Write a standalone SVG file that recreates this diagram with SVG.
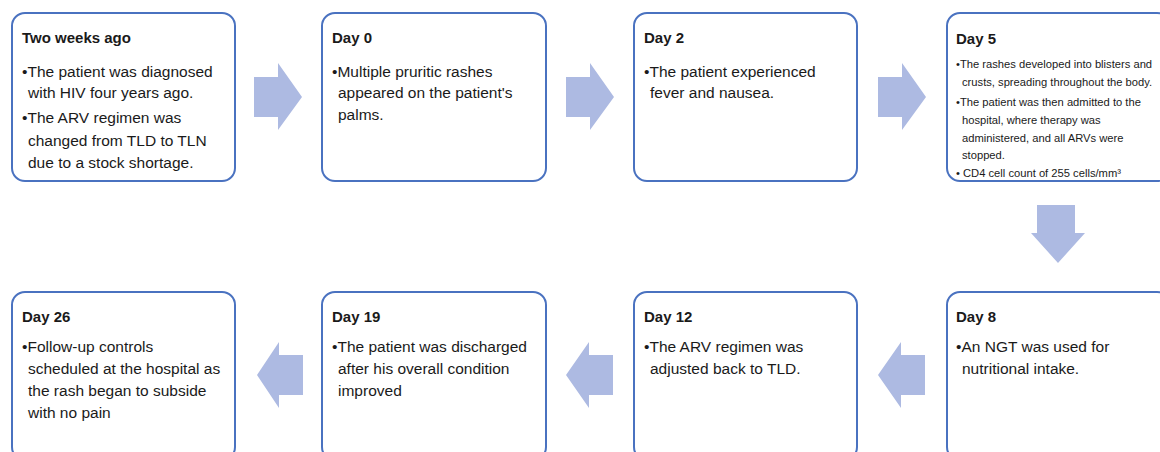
<svg xmlns="http://www.w3.org/2000/svg" width="1160" height="452" viewBox="0 0 1160 452">
<style>
.box{fill:#fff;stroke:#4a72c0;stroke-width:2}
.t{font-family:"Liberation Sans",Arial,sans-serif;fill:#1a1a1a}
.h{font-size:15px;font-weight:bold}
.b{font-size:15.5px}
.s{font-size:11.2px}
.arr{fill:#adbae2}
</style>
<rect width="1160" height="452" fill="#fff"/>
<g id="connectors">
<path class="arr" d="M254,77H278V63L302,97L278,130V117H254Z"/>
<path class="arr" d="M566,77H590V63L614,97L590,130V117H566Z"/>
<path class="arr" d="M878,77H902V63L926,97L902,130V117H878Z"/>
<path class="arr" d="M1037,205H1075V233H1085L1058,263L1031,233H1037Z"/>
<path class="arr" d="M925,355H901V342L878,375L901,408V395H925Z"/>
<path class="arr" d="M613,355H589V342L566,375L589,408V395H613Z"/>
<path class="arr" d="M303,355H279V342L257,375L279,408V395H303Z"/>
</g>
<g id="n1"><rect class="box" x="12" y="13" width="223" height="168" rx="13"/>
<text class="t h" x="22" y="43">Two weeks ago</text>
<text class="t b"><tspan x="22" y="77">•The patient was diagnosed</tspan><tspan x="28" y="98">with HIV four years ago.</tspan><tspan x="22" y="123">•The ARV regimen was</tspan><tspan x="28" y="146">changed from TLD to TLN</tspan><tspan x="28" y="168">due to a stock shortage.</tspan></text></g>
<g id="n2"><rect class="box" x="322" y="13" width="224" height="168" rx="13"/>
<text class="t h" x="332" y="43">Day 0</text>
<text class="t b"><tspan x="332" y="77">•Multiple pruritic rashes</tspan><tspan x="338" y="98">appeared on the patient's</tspan><tspan x="338" y="120">palms.</tspan></text></g>
<g id="n3"><rect class="box" x="634" y="13" width="223" height="168" rx="13"/>
<text class="t h" x="644" y="43">Day 2</text>
<text class="t b"><tspan x="644" y="77">•The patient experienced</tspan><tspan x="650" y="98">fever and nausea.</tspan></text></g>
<g id="n4"><rect class="box" x="947" y="13" width="223" height="168" rx="13"/>
<text class="t h" x="956" y="44">Day 5</text>
<text class="t s"><tspan x="956" y="68">•The rashes developed into blisters and</tspan><tspan x="962" y="86">crusts, spreading throughout the body.</tspan><tspan x="956" y="106">•The patient was then admitted to the</tspan><tspan x="962" y="124">hospital, where therapy was</tspan><tspan x="962" y="142">administered, and all ARVs were</tspan><tspan x="962" y="159">stopped.</tspan><tspan x="956" y="177">• CD4 cell count of 255 cells/mm³</tspan></text></g>
<g id="n5"><rect class="box" x="947" y="292" width="223" height="168" rx="13"/>
<text class="t h" x="956" y="322">Day 8</text>
<text class="t b"><tspan x="956" y="352">•An NGT was used for</tspan><tspan x="962" y="374">nutritional intake.</tspan></text></g>
<g id="n6"><rect class="box" x="634" y="292" width="223" height="168" rx="13"/>
<text class="t h" x="644" y="322">Day 12</text>
<text class="t b"><tspan x="644" y="352">•The ARV regimen was</tspan><tspan x="650" y="374">adjusted back to TLD.</tspan></text></g>
<g id="n7"><rect class="box" x="322" y="292" width="224" height="168" rx="13"/>
<text class="t h" x="332" y="322">Day 19</text>
<text class="t b"><tspan x="332" y="352">•The patient was discharged</tspan><tspan x="338" y="374">after his overall condition</tspan><tspan x="338" y="396">improved</tspan></text></g>
<g id="n8"><rect class="box" x="12" y="292" width="223" height="168" rx="13"/>
<text class="t h" x="22" y="322">Day 26</text>
<text class="t b"><tspan x="22" y="352">•Follow-up controls</tspan><tspan x="28" y="374">scheduled at the hospital as</tspan><tspan x="28" y="396">the rash began to subside</tspan><tspan x="28" y="418">with no pain</tspan></text></g>
</svg>
